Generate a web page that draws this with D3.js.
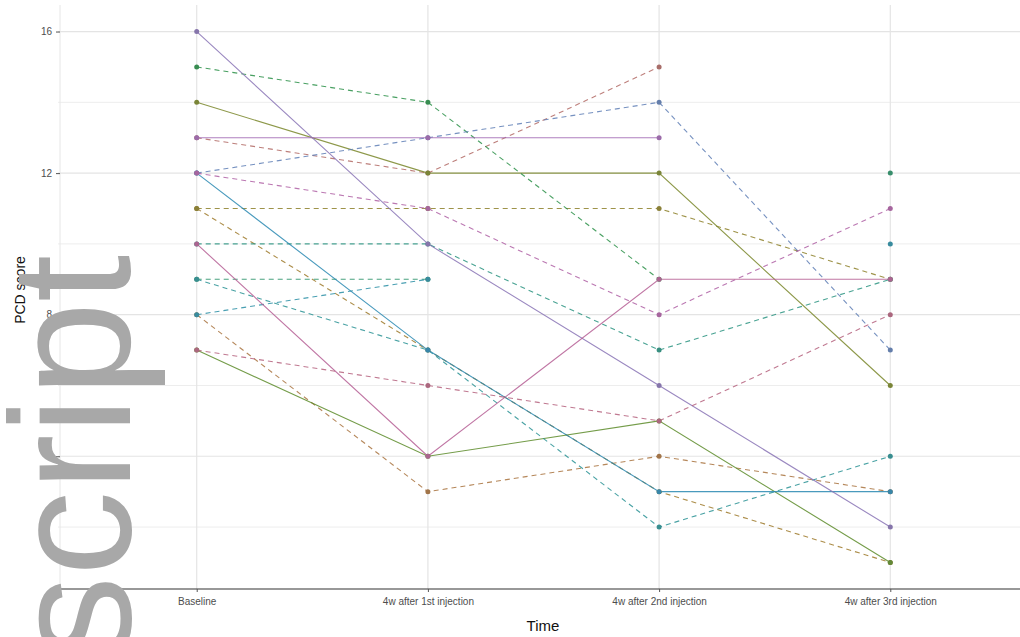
<!DOCTYPE html>
<html>
<head>
<meta charset="utf-8">
<script src="https://cdn.jsdelivr.net/npm/d3@7"></script>
<style>
  body { margin: 0; background: #fff; }
  svg { display: block; font-family: "Liberation Sans", Arial, sans-serif; }
</style>
</head>
<body>
<div id="chart"></div>
<script>
// time points
var times = ["Baseline", "4w after 1st injection", "4w after 2nd injection", "4w after 3rd injection"];

// one score list per patient, null = not measured
var patients = ["P05", "P16", "P19", "P09", "P03", "P18", "P02", "P13", "P10",
                "P15", "P14", "P07", "P06", "P01", "P04", "P08", "P12", "P17"];
var scores = [
  [13, 12, 15, null],
  [8, 3, 4, 3],
  [11, 7, 3, 1],
  [11, 11, 11, 9],
  [14, 12, 12, 6],
  [7, 4, 5, 1],
  [15, 14, 9, null],
  [9, 9, null, 12],
  [10, 10, 7, 9],
  [9, 7, 2, 4],
  [8, 9, null, 10],
  [12, 7, 3, 3],
  [12, 13, 14, 7],
  [16, 10, 6, 2],
  [13, 13, 13, null],
  [12, 11, 8, 11],
  [10, 4, 9, 9],
  [7, 6, 5, 8]
];
var groups = ["B", "B", "B", "B", "A", "A", "B", "B", "B",
              "B", "B", "A", "B", "A", "A", "B", "A", "B"];

var yTicks = [4, 8, 12, 16];
var yMinor = [2, 6, 10, 14];

var width = 1020, height = 637;
var margins = {top: 5, left: 58, right: -9, bottom: 48};

// ggplot-like hue palette (polar Luv)
function hueColor(h, c, l) {
  var hr = h * Math.PI / 180;
  var U = c * Math.cos(hr), V = c * Math.sin(hr);
  var Xn = 95.047, Yn = 100, Zn = 108.883;
  var un = 4 * Xn / (Xn + 15 * Yn + 3 * Zn), vn = 9 * Yn / (Xn + 15 * Yn + 3 * Zn);
  var Y = l > 7.999592 ? Yn * Math.pow((l + 16) / 116, 3) : Yn * l / 903.3;
  var u = U / (13 * l) + un, v = V / (13 * l) + vn;
  var X = 9 * Y * u / (4 * v);
  var Z = -X / 3 - 5 * Y + 3 * Y / v;
  X /= 100; Y /= 100; Z /= 100;
  var r = 3.240479 * X - 1.537150 * Y - 0.498535 * Z;
  var g = -0.969256 * X + 1.875992 * Y + 0.041556 * Z;
  var b = 0.055648 * X - 0.204043 * Y + 1.057311 * Z;
  function gam(t) {
    t = t > 0.00304 ? 1.055 * Math.pow(t, 1 / 2.4) - 0.055 : 12.92 * t;
    return Math.round(Math.max(0, Math.min(1, t)) * 255);
  }
  return d3.rgb(gam(r), gam(g), gam(b)).formatHex();
}

var palette = patients.map(function (d, i) {
  return hueColor(15 + 360 / patients.length * i, 100, 65);
});
var color = d3.scaleOrdinal(patients, palette);
var dash = d3.scaleOrdinal(["A", "B"], ["none", "5,4"]);

var x = d3.scalePoint()
  .domain(times)
  .range([margins.left, width - margins.right])
  .padding(0.6);

var y = d3.scaleLinear()
  .domain([0.25, 16.75])
  .range([height - margins.bottom, margins.top]);

var svg = d3.select("#chart").append("svg")
  .attr("width", width)
  .attr("height", height);

// grid
var grid = svg.append("g").attr("class", "grid");
grid.selectAll("line.minor")
  .data(yMinor)
  .enter().append("line")
  .attr("x1", margins.left).attr("x2", width)
  .attr("y1", function (d) { return y(d); })
  .attr("y2", function (d) { return y(d); })
  .style("stroke", "#ededed").style("stroke-width", 1);
grid.selectAll("line.major")
  .data(yTicks)
  .enter().append("line")
  .attr("x1", margins.left).attr("x2", width)
  .attr("y1", function (d) { return y(d); })
  .attr("y2", function (d) { return y(d); })
  .style("stroke", "#e4e4e4").style("stroke-width", 1.2);
grid.selectAll("line.vert")
  .data(times)
  .enter().append("line")
  .attr("x1", function (d) { return x(d); })
  .attr("x2", function (d) { return x(d); })
  .attr("y1", margins.top).attr("y2", height - margins.bottom)
  .style("stroke", "#e4e4e4").style("stroke-width", 1.2);
grid.append("line")
  .attr("x1", margins.left + 2).attr("x2", margins.left + 2)
  .attr("y1", margins.top).attr("y2", height - margins.bottom)
  .style("stroke", "#e6e6e6");

// axes
var yAxis = d3.axisLeft(y).tickValues(yTicks).tickSize(4).tickPadding(4);
var yG = svg.append("g")
  .attr("transform", "translate(" + (margins.left + 2) + ",0)")
  .call(yAxis);
yG.select(".domain").remove();
yG.selectAll("text").style("font-size", "10px").style("fill", "#4d4d4d");
yG.selectAll("line").style("stroke", "#555");

var xAxis = d3.axisBottom(x).tickSize(3).tickPadding(6);
var xG = svg.append("g")
  .attr("transform", "translate(0," + (height - margins.bottom) + ")")
  .call(xAxis);
xG.select(".domain")
  .attr("d", "M" + (margins.left + 2) + ",0H" + width)
  .style("stroke", "#333").style("stroke-width", 1.2);
xG.selectAll("text").style("font-size", "10px").style("fill", "#4d4d4d");
xG.selectAll(".tick line").style("stroke", "#555");

svg.append("text")
  .attr("transform", "translate(25,290) rotate(-90)")
  .attr("text-anchor", "middle")
  .style("font-size", "14px")
  .style("fill", "#111")
  .text("PCD score");

svg.append("text")
  .attr("x", 543)
  .attr("y", 631)
  .attr("text-anchor", "middle")
  .style("font-size", "15px")
  .style("fill", "#111")
  .text("Time");

// lines and points
var series = patients.map(function (p, i) {
  return {
    id: p,
    group: groups[i],
    values: scores[i].map(function (v, j) { return {time: times[j], score: v}; })
  };
});

var line = d3.line()
  .defined(function (d) { return d.score !== null; })
  .x(function (d) { return x(d.time); })
  .y(function (d) { return y(d.score); });

function shade(c) {
  return d3.interpolateRgb(c, "#5a5a5a")(0.45);
}

var body = svg.append("g").attr("class", "body");
body.selectAll("path.line")
  .data(series)
  .enter().append("path")
  .attr("class", "line")
  .attr("d", function (d) { return line(d.values); })
  .style("fill", "none")
  .style("stroke", function (d) { return shade(color(d.id)); })
  .style("stroke-width", 1.1)
  .style("stroke-dasharray", function (d) { return dash(d.group); })
  .style("opacity", 0.85);

var pts = [];
series.forEach(function (s) {
  s.values.forEach(function (v) {
    if (v.score !== null) pts.push({id: s.id, time: v.time, score: v.score});
  });
});
body.selectAll("circle")
  .data(pts)
  .enter().append("circle")
  .attr("cx", function (d) { return x(d.time); })
  .attr("cy", function (d) { return y(d.score); })
  .attr("r", 2.5)
  .style("fill", function (d) { return d3.interpolateRgb(color(d.id), "#666")(0.55); });

// overlaid word
svg.append("text")
  .attr("transform", "translate(130,661) rotate(-90)")
  .style("font-family", "'Liberation Sans', Arial, sans-serif")
  .style("font-size", "170px")
  .style("fill", "#a8a8a8")
  .text("script");
</script>
</body>
</html>
